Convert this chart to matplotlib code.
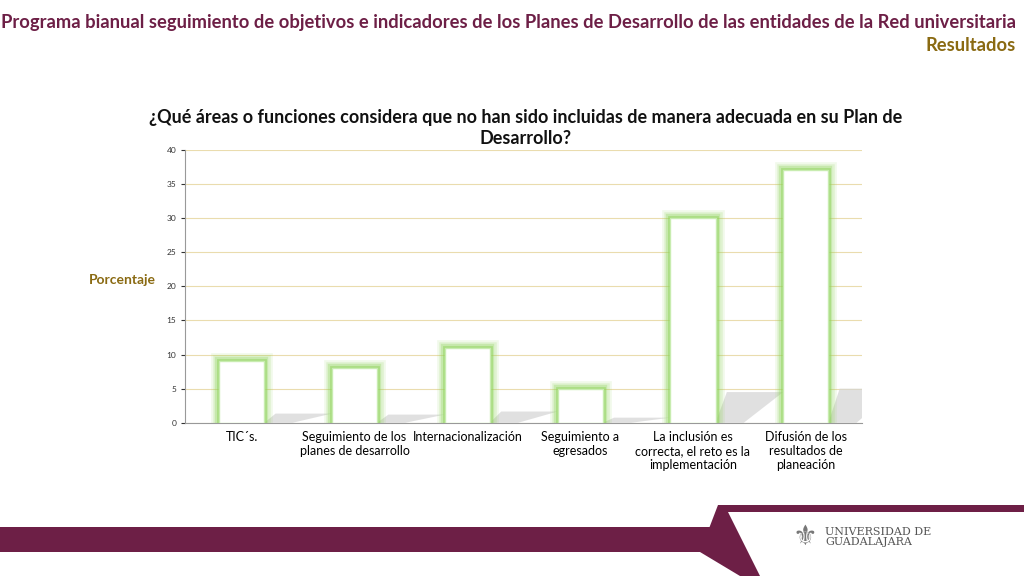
import matplotlib.pyplot as plt
from matplotlib.patches import Polygon

plt.rcParams["font.family"] = "Lato"

categories = ["TIC´s.", "Seguimiento de los\nplanes de desarrollo", "Internacionalización",
              "Seguimiento a\negresados", "La inclusión es\ncorrecta, el reto es la\nimplementación",
              "Difusión de los\nresultados de\nplaneación"]
values = [9, 8, 11, 5, 30, 37]
yticks = [0, 5, 10, 15, 20, 25, 30, 35, 40]

purple = "#6d1f46"
gold = "#8a6a12"

fig = plt.figure(figsize=(10.24, 5.76), dpi=100)
ax = fig.add_axes([0.181, 0.266, 0.661, 0.474])

x = range(len(values))
w = 0.4
# shadows
for i, v in zip(x, values):
    h = min(v * 0.15, 5)
    ax.add_patch(Polygon([(i + w / 2, 0), (i + w / 2 + 0.25, 0), (i + w / 2 + 0.6, h), (i + w / 2 + 0.1, h)],
                         closed=True, color="#d4d4d4", alpha=0.7, lw=0, zorder=1))
# glow
for lw, a in [(12, 0.12), (9, 0.18), (6, 0.3), (3.5, 0.5)]:
    ax.bar(x, values, width=w, color="none", edgecolor="#8fd45a", linewidth=lw, alpha=a, zorder=2)
ax.bar(x, values, width=w, color="white", edgecolor="#c8ecb0", linewidth=1, zorder=3)

ax.set_ylim(0, 40)
ax.set_xlim(-0.5, len(values) - 0.5)
ax.set_yticks(yticks)
ax.tick_params(axis="y", labelsize=6, length=3, colors="#333333")
ax.set_xticks(list(x))
ax.set_xticklabels(categories, fontsize=9)
ax.tick_params(axis="x", length=0, pad=6)
ax.grid(axis="y", color="#eadcae", linewidth=0.8, zorder=0)
ax.set_axisbelow(True)
for s in ["top", "right"]:
    ax.spines[s].set_visible(False)
for s in ["left", "bottom"]:
    ax.spines[s].set_color("#999999")
ax.set_ylabel("Porcentaje", fontsize=10, fontweight="bold", color=gold, rotation=0, labelpad=32)

fig.text(0.992, 0.975, "Programa bianual seguimiento de objetivos e indicadores de los Planes de Desarrollo de las entidades de la Red universitaria",
         ha="right", va="top", fontsize=13.2, fontweight="bold", color=purple)
fig.text(0.992, 0.935, "Resultados", ha="right", va="top", fontsize=13.2, fontweight="bold", color=gold)
fig.text(0.513, 0.778, "¿Qué áreas o funciones considera que no han sido incluidas de manera adecuada en su Plan de\nDesarrollo?",
         ha="center", va="center", fontsize=13, fontweight="bold", color="#111111", linespacing=1.3)

# footer
fax = fig.add_axes([0, 0, 1, 1], zorder=-1)
fax.set_xlim(0, 1024)
fax.set_ylim(576, 0)
fax.axis("off")
fax.add_patch(Polygon([(0, 527), (740, 527), (740, 552), (0, 552)], color=purple, lw=0))
fax.add_patch(Polygon([(718, 505), (1024, 505), (1024, 576), (740, 576), (700, 552)], color=purple, lw=0))
fax.add_patch(Polygon([(728, 512), (1024, 512), (1024, 576), (760, 576)], color="white", lw=0))
fax.text(825, 537, "UNIVERSIDAD DE\nGUADALAJARA", fontsize=8, family="DejaVu Serif", color="#555555",
         va="center", ha="left", linespacing=1.0)
fax.text(805, 537, "⚜", fontsize=20, family="DejaVu Sans", color="#777777", ha="center", va="center")

fig.savefig("out.png", dpi=100)
